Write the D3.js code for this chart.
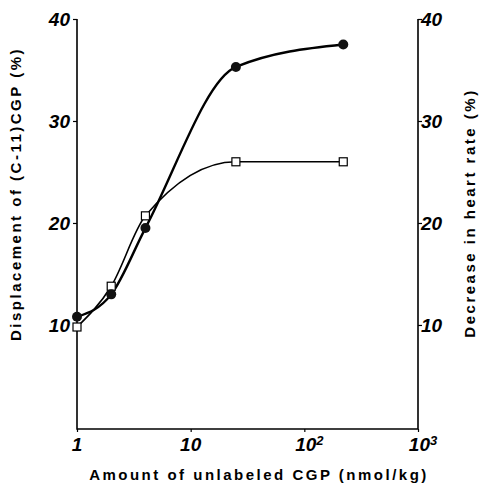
<!DOCTYPE html>
<html>
<head>
<meta charset="utf-8">
<script src="https://cdn.jsdelivr.net/npm/d3@7"></script>
<style>
  body { margin: 0; background: #fff; }
  text { font-family: "Liberation Sans", Arial, sans-serif; fill: #000; }
</style>
</head>
<body>
<div id="chart"></div>
<script>
// dose of unlabeled CGP (nmol/kg)
var doses = [1, 2, 4, 25, 220];
// displacement of (C-11)CGP, filled circles
var displacement = [10.8, 13.0, 19.5, 35.3, 37.5];
// decrease in heart rate, open squares
var heartRate = [9.8, 13.8, 20.7, 26.0, 26.0];

var yTicks = [10, 20, 30, 40];
var xTicks = [1, 10, 100, 1000];
var xTickLabels = ["1", "10", "10|2", "10|3"];

var svgWidth = 480, svgHeight = 487;
var margin = {top: 19, right: 62, bottom: 58, left: 77};
var width = svgWidth - margin.left - margin.right;
var height = svgHeight - margin.top - margin.bottom;

var svg = d3.select("#chart")
  .append("svg")
  .attr("width", svgWidth)
  .attr("height", svgHeight);

var g = svg.append("g")
  .attr("transform", `translate(${margin.left}, ${margin.top})`);

var xScale = d3.scaleLog()
  .domain([1, 1000])
  .range([0, width]);

var yScale = d3.scaleLinear()
  .domain([-0.2, 40])
  .range([height, 0]);

// axes
var yAxisLeft = d3.axisRight(yScale).tickValues(yTicks).tickSize(-4).tickFormat("");
var yAxisRight = d3.axisLeft(yScale).tickValues(yTicks).tickSize(-4).tickFormat("");
var xAxis = d3.axisTop(xScale).tickValues(xTicks).tickSize(-3).tickFormat("");

function styleAxis(sel) {
  sel.select(".domain").remove();
  sel.selectAll(".tick line").attr("stroke", "#000").attr("stroke-width", 1.2);
}

g.append("g").call(yAxisLeft).call(styleAxis);
g.append("g").attr("transform", `translate(${width},0)`).call(yAxisRight).call(styleAxis);
g.append("g").attr("transform", `translate(0,${height})`).call(xAxis).call(styleAxis);

// frame: left, bottom, right
g.append("path")
  .attr("d", `M0,0 V${height} H${width} V0`)
  .attr("fill", "none")
  .attr("stroke", "#000")
  .attr("stroke-width", 1.6);

// tick labels
var tickFont = 19;
g.selectAll("text.yl")
  .data(yTicks)
  .enter()
  .append("text")
  .attr("x", -7)
  .attr("y", d => yScale(d))
  .attr("dy", "0.36em")
  .attr("text-anchor", "end")
  .style("font-size", tickFont + "px")
  .style("font-weight", "bold")
  .style("font-style", "italic")
  .text(d => d);

g.selectAll("text.yr")
  .data(yTicks)
  .enter()
  .append("text")
  .attr("x", width + 3)
  .attr("y", d => yScale(d))
  .attr("dy", "0.36em")
  .attr("text-anchor", "start")
  .style("font-size", tickFont + "px")
  .style("font-weight", "bold")
  .style("font-style", "italic")
  .text(d => d);

var xl = g.selectAll("text.xl")
  .data(xTicks)
  .enter()
  .append("text")
  .attr("x", (d, i) => xScale(d) + (i > 1 ? 5 : 0))
  .attr("y", height + 22)
  .attr("text-anchor", "middle")
  .style("font-size", tickFont + "px")
  .style("font-weight", "bold")
  .style("font-style", "italic");

xl.each(function(d, i) {
  var parts = xTickLabels[i].split("|");
  var t = d3.select(this);
  t.append("tspan").text(parts[0]);
  if (parts[1]) {
    t.append("tspan")
      .attr("dy", "-0.45em")
      .style("font-size", "13px")
      .text(parts[1]);
  }
});

// lines
var line = d3.line()
  .x(d => xScale(d[0]))
  .y(d => yScale(d[1]))
  .curve(d3.curveMonotoneX);

var circlePts = doses.map((d, i) => [d, displacement[i]]);
var squarePts = doses.map((d, i) => [d, heartRate[i]]);

g.append("path")
  .datum(squarePts)
  .attr("d", line)
  .attr("fill", "none")
  .attr("stroke", "#000")
  .attr("stroke-width", 1.6);

g.append("path")
  .datum(circlePts)
  .attr("d", line)
  .attr("fill", "none")
  .attr("stroke", "#000")
  .attr("stroke-width", 2.4);

g.selectAll("rect.sq")
  .data(squarePts)
  .enter()
  .append("rect")
  .attr("x", d => xScale(d[0]) - 4)
  .attr("y", d => yScale(d[1]) - 4)
  .attr("width", 8)
  .attr("height", 8)
  .attr("fill", "#fff")
  .attr("stroke", "#000")
  .attr("stroke-width", 1.2);

g.selectAll("circle")
  .data(circlePts)
  .enter()
  .append("circle")
  .attr("cx", d => xScale(d[0]))
  .attr("cy", d => yScale(d[1]))
  .attr("r", 5)
  .attr("fill", "#111");

// axis titles
function title(sel) {
  sel.attr("text-anchor", "middle")
    .style("font-size", "15px")
    .style("font-weight", "bold")
    .style("letter-spacing", "2.5px");
}

svg.append("text")
  .attr("x", 259)
  .attr("y", 480)
  .call(title)
  .text("Amount of unlabeled CGP (nmol/kg)");

svg.append("text")
  .attr("transform", "translate(21, 194) rotate(-90)")
  .call(title)
  .text("Displacement of (C-11)CGP (%)");

svg.append("text")
  .attr("transform", "translate(475, 213) rotate(-90)")
  .call(title)
  .text("Decrease in heart rate (%)");
</script>
</body>
</html>
